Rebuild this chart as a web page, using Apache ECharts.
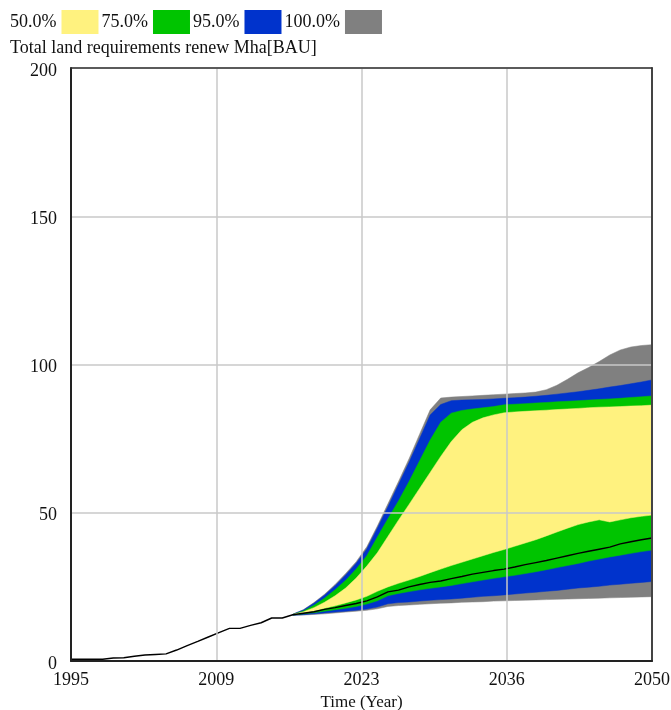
<!DOCTYPE html>
<html>
<head>
<meta charset="utf-8">
<script src="https://cdn.jsdelivr.net/npm/echarts@6/dist/echarts.min.js"></script>
<style>
  html, body { margin: 0; padding: 0; background: #ffffff; }
  #chart { width: 671px; height: 710px; }
</style>
</head>
<body>
<div id="chart"></div>
<script>
// Base run: total land requirements for renewables, Mha (BAU scenario)
const years = [
  1995, 1996, 1997, 1998, 1999, 2000, 2001, 2002, 2003, 2004,
  2005, 2006, 2007, 2008, 2009, 2010, 2011, 2012, 2013, 2014,
  2015, 2016, 2017, 2018, 2019, 2020, 2021, 2022, 2023, 2024,
  2025, 2026, 2027, 2028, 2029, 2030, 2031, 2032, 2033, 2034,
  2035, 2036, 2037, 2038, 2039, 2040, 2041, 2042, 2043, 2044,
  2045, 2046, 2047, 2048, 2049, 2050
];
const baseRun = [
  0.6, 0.6, 0.6, 0.6, 1.0, 1.1, 1.6, 2.0, 2.2, 2.4,
  3.7, 5.2, 6.6, 8.1, 9.6, 11.0, 11.0, 12.0, 12.9, 14.5,
  14.5, 15.6, 16.1, 16.6, 17.4, 18.0, 18.7, 19.4, 20.3, 21.6,
  23.3, 23.9, 25.0, 25.8, 26.5, 27.0, 27.8, 28.5, 29.3, 29.9,
  30.5, 31.0, 31.7, 32.5, 33.2, 33.9, 34.7, 35.5, 36.3, 37.0,
  37.7, 38.4, 39.5, 40.2, 40.9, 41.5
];

// Sensitivity envelopes (confidence bounds), 2016-2050
const bandYears = [
  2016, 2017, 2018, 2019, 2020, 2021, 2022, 2023, 2024, 2025,
  2026, 2027, 2028, 2029, 2030, 2031, 2032, 2033, 2034, 2035,
  2036, 2037, 2038, 2039, 2040, 2041, 2042, 2043, 2044, 2045,
  2046, 2047, 2048, 2049, 2050
];
const upper100 = [
  15.8, 17.3, 19.7, 22.5, 25.8, 29.5, 33.5, 38.5, 45.5, 53.0,
  60.5, 68.2, 76.5, 84.7, 88.7, 89.0, 89.2, 89.4, 89.6, 89.8,
  90.0, 90.2, 90.4, 90.7, 91.5, 93.0, 95.0, 97.2, 99.0, 101.0,
  103.2, 104.9, 105.9, 106.4, 106.7
];
const upper95 = [
  15.8, 17.2, 19.5, 22.2, 25.4, 29.0, 33.0, 37.8, 44.8, 52.0,
  59.5, 67.0, 75.0, 83.0, 86.5, 87.8, 88.0, 88.1, 88.2, 88.4,
  88.6, 88.8, 89.0, 89.3, 89.6, 90.0, 90.4, 90.8, 91.3, 91.8,
  92.4, 92.9, 93.5, 94.1, 94.8
];
const upper75 = [
  15.7, 16.9, 18.8, 21.2, 24.0, 27.2, 31.0, 35.5, 41.8, 48.0,
  54.0, 60.5, 67.5, 74.5, 80.5, 83.6, 84.5, 85.0, 85.4, 85.8,
  86.4, 86.6, 86.8, 87.0, 87.2, 87.4, 87.6, 87.8, 88.0, 88.2,
  88.4, 88.6, 88.9, 89.1, 89.4
];
const upper50 = [
  15.7, 16.6, 18.0, 19.8, 22.0, 24.6, 28.0, 32.0, 36.5, 42.0,
  47.5, 52.8, 58.2, 63.6, 69.0, 74.0, 78.0, 80.5, 82.0, 83.0,
  83.7, 84.0, 84.2, 84.4, 84.6, 84.8, 85.0, 85.2, 85.4, 85.6,
  85.7, 85.8, 86.0, 86.1, 86.3
];
const lower50 = [
  15.6, 16.2, 16.9, 17.8, 18.6, 19.6, 20.6, 21.8, 23.5, 25.0,
  26.2, 27.3, 28.5, 29.8, 31.0, 32.2, 33.3, 34.4, 35.5, 36.6,
  37.6, 38.7, 39.8, 40.9, 42.2, 43.5, 44.8, 46.0, 46.9, 47.6,
  46.9, 47.6, 48.3, 48.8, 49.2
];
const lower75 = [
  15.5, 15.9, 16.3, 16.8, 17.3, 17.8, 18.4, 19.2, 20.3, 22.0,
  22.8, 23.4, 24.0, 24.5, 25.0, 25.5, 26.1, 26.7, 27.3, 27.9,
  28.4, 28.9, 29.5, 30.1, 30.8, 31.5, 32.2, 32.9, 33.7, 34.4,
  35.1, 35.7, 36.3, 36.9, 37.4
];
const lower95 = [
  15.4, 15.6, 15.9, 16.2, 16.5, 16.8, 17.1, 17.5, 18.2, 19.3,
  19.7, 19.9, 20.2, 20.5, 20.7, 20.9, 21.2, 21.5, 21.8, 22.0,
  22.3, 22.6, 22.9, 23.2, 23.5, 23.8, 24.2, 24.6, 24.9, 25.2,
  25.6, 25.9, 26.2, 26.5, 26.8
];
const lower100 = [
  15.4, 15.5, 15.7, 15.9, 16.2, 16.5, 16.8, 17.1, 17.6, 18.4,
  18.7, 18.9, 19.1, 19.3, 19.5, 19.6, 19.8, 19.9, 20.0, 20.2,
  20.3, 20.4, 20.5, 20.6, 20.7, 20.8, 20.9, 21.0, 21.1, 21.2,
  21.3, 21.4, 21.5, 21.6, 21.7
];

const bandNames = ['50.0%', '75.0%', '95.0%', '100.0%'];
const bandColors = ['#fff27f', '#00c400', '#0033cc', '#808080'];
const xTickLabels = ['1995', '2009', '2023', '2036', '2050'];
const titleText = 'Total land requirements renew Mha[BAU]';
const xName = 'Time (Year)';

// x axis runs in years elapsed since the first year so the five evenly
// spaced ticks (every 13.75 years) start from zero
const START = years[0];
const SPAN = years[years.length - 1] - START;
const STEP = SPAN / 4;
const FONT = 'Liberation Serif';

// Bands from widest to narrowest; each is a closed polygon between its
// lower and upper bound, so narrower bands are painted over wider ones.
const bands = [
  { name: bandNames[3], color: bandColors[3], lo: lower100, hi: upper100 },
  { name: bandNames[2], color: bandColors[2], lo: lower95,  hi: upper95 },
  { name: bandNames[1], color: bandColors[1], lo: lower75,  hi: upper75 },
  { name: bandNames[0], color: bandColors[0], lo: lower50,  hi: upper50 }
];

const series = bands.map((band, k) => ({
  type: 'custom', name: band.name, silent: true, z: 2 + k * 0.01,
  itemStyle: { color: band.color },
  data: bandYears.map((y, i) => [y - START, band.lo[i], band.hi[i]]),
  renderItem: function (params, api) {
    // draw the whole band once, on the first data item
    if (params.dataIndex !== 0) return null;
    const top = [], bottom = [];
    for (let i = 0; i < bandYears.length; i++) {
      const x = bandYears[i] - START;
      top.push(api.coord([x, band.hi[i]]));
      bottom.push(api.coord([x, band.lo[i]]));
    }
    return {
      type: 'polygon',
      shape: { points: top.concat(bottom.reverse()) },
      style: { fill: band.color, stroke: band.color, lineWidth: 0.5 }
    };
  }
}));
series.push({
  type: 'line', name: 'base', symbol: 'none', silent: true, z: 3,
  lineStyle: { color: '#000000', width: 1.4 },
  data: years.map((y, i) => [y - START, baseRun[i]])
});

const chart = echarts.init(document.getElementById('chart'), null, { renderer: 'canvas' });
chart.setOption({
  animation: false,
  backgroundColor: '#ffffff',
  title: {
    text: titleText, left: 5, top: 34,
    textStyle: { fontFamily: FONT, fontSize: 18, fontWeight: 'normal', color: '#111' }
  },
  legend: {
    data: bandNames, left: 5, top: 5, align: 'right', icon: 'rect',
    itemWidth: 37, itemHeight: 24, itemGap: 3, selectedMode: false,
    textStyle: { fontFamily: FONT, fontSize: 18, color: '#111' }
  },
  grid: { left: 71, right: 19, top: 68, bottom: 49, containLabel: false, outerBoundsMode: 'none' },
  xAxis: [{
    type: 'value', min: 0, max: SPAN, interval: STEP, z: 4,
    name: xName, nameLocation: 'middle', nameGap: 23,
    nameTextStyle: { fontFamily: FONT, fontSize: 17, color: '#111' },
    axisLine: { show: true, onZero: false, lineStyle: { color: '#222', width: 2 } },
    axisTick: { show: false },
    axisLabel: {
      fontFamily: FONT, fontSize: 18, color: '#111', margin: 10,
      formatter: v => xTickLabels[Math.round(v / STEP)]
    },
    splitLine: { show: true, lineStyle: { color: '#c8c8c8', width: 1.5 } }
  }, {
    type: 'value', position: 'top', min: 0, max: SPAN, z: 4,
    axisLine: { show: true, onZero: false, lineStyle: { color: '#333', width: 1.5 } },
    axisTick: { show: false }, axisLabel: { show: false }, splitLine: { show: false }
  }],
  yAxis: [{
    type: 'value', min: 0, max: 200, interval: 50, z: 4,
    axisLine: { show: true, onZero: false, lineStyle: { color: '#222', width: 2 } },
    axisTick: { show: false },
    axisLabel: {
      fontFamily: FONT, fontSize: 18, color: '#111', margin: 14,
      verticalAlign: 'top', lineHeight: 6
    },
    splitLine: { show: true, lineStyle: { color: '#c8c8c8', width: 1.5 } }
  }, {
    type: 'value', position: 'right', min: 0, max: 200, z: 4,
    axisLine: { show: true, onZero: false, lineStyle: { color: '#444', width: 2 } },
    axisTick: { show: false }, axisLabel: { show: false }, splitLine: { show: false }
  }],
  series: series
});
</script>
</body>
</html>
